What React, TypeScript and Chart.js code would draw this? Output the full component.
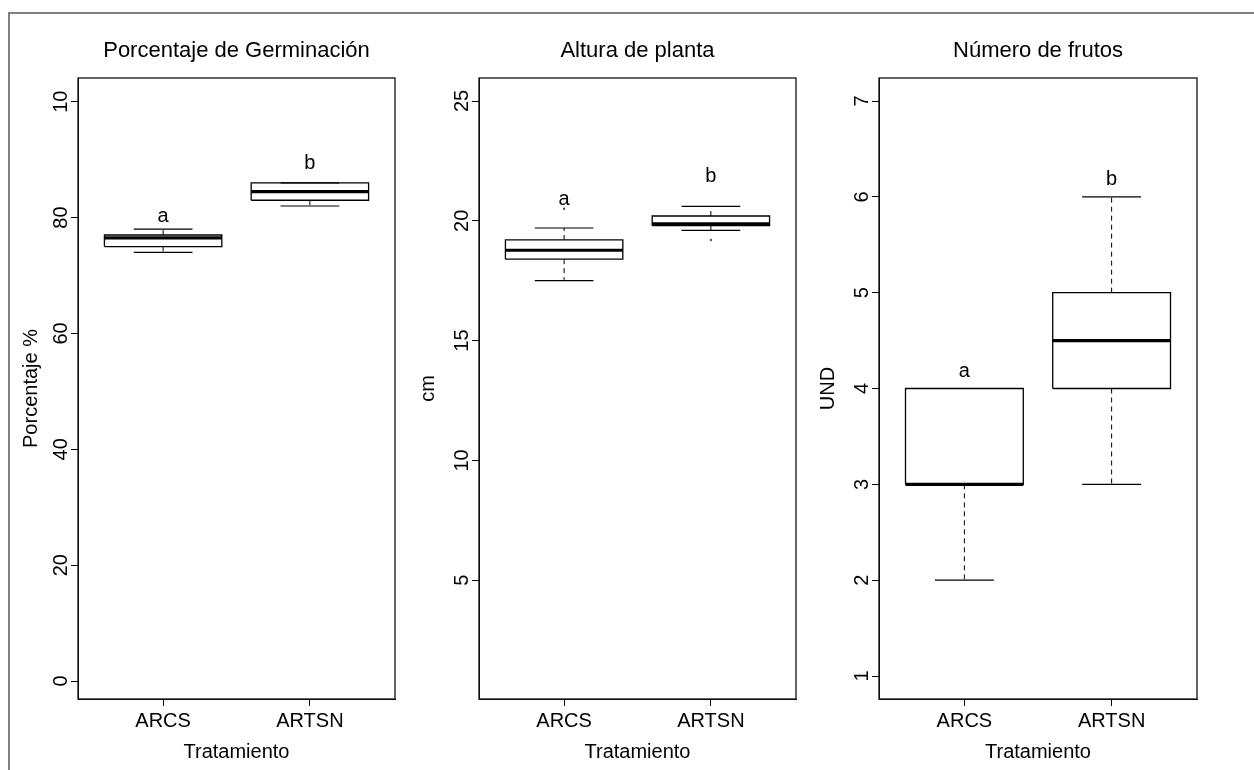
import React, { useEffect, useRef } from "react";
import { Chart, registerables } from "chart.js";

Chart.register(...registerables);

const FONT = "'Liberation Sans', Arial, Helvetica, sans-serif";

// ---------- data ----------
const categories = ["ARCS", "ARTSN"];
const xAxisTitle = "Tratamiento";

// five-number summaries: [min, q1, median, q3, max]
const germStats = [
  [74, 75, 76.5, 77, 78],
  [82, 83, 84.5, 86, 86],
];
const alturaStats = [
  [17.5, 18.4, 18.77, 19.2, 19.7],
  [19.6, 19.8, 19.87, 20.2, 20.6],
];
const frutosStats = [
  [2, 3, 3, 4, 4],
  [3, 4, 4.5, 5, 6],
];

const germOutliers = [[], []];
const alturaOutliers = [[20.5], [19.2]];
const frutosOutliers = [[], []];

const groupLetters = ["a", "b"];
const germLetterY = [79.3, 88.4];
const alturaLetterY = [20.67, 21.62];
const frutosLetterY = [4.12, 6.12];

const germTicks = [0, 20, 40, 60, 80, 100];
const germTickLabels = ["0", "20", "40", "60", "80", "10"];
const alturaTicks = [5, 10, 15, 20, 25];
const alturaTickLabels = ["5", "10", "15", "20", "25"];
const frutosTicks = [1, 2, 3, 4, 5, 6, 7];
const frutosTickLabels = ["1", "2", "3", "4", "5", "6", "7"];

// ---------- panel setup ----------
type PanelCfg = {
  title: string;
  yTitle: string;
  stats: number[][];
  outliers: number[][];
  letterY: number[];
  ticks: number[];
  tickLabels: string[];
  yMin: number;
  yMax: number;
  left: number;
  width: number;
  padLeft: number;
  yAxisWidth: number;
  padRight: number;
  tickPad: number;
};

const panels: PanelCfg[] = [
  {
    title: "Porcentaje de Germinación",
    yTitle: "Porcentaje %",
    stats: germStats,
    outliers: germOutliers,
    letterY: germLetterY,
    ticks: germTicks,
    tickLabels: germTickLabels,
    yMin: -3.1,
    yMax: 104.1,
    left: 0,
    width: 430,
    padLeft: 19,
    yAxisWidth: 59,
    padRight: 35,
    tickPad: -2,
  },
  {
    title: "Altura de planta",
    yTitle: "cm",
    stats: alturaStats,
    outliers: alturaOutliers,
    letterY: alturaLetterY,
    ticks: alturaTicks,
    tickLabels: alturaTickLabels,
    yMin: 0.04,
    yMax: 25.96,
    left: 380,
    width: 450,
    padLeft: 36,
    yAxisWidth: 63,
    padRight: 34,
    tickPad: -2,
  },
  {
    title: "Número de frutos",
    yTitle: "UND",
    stats: frutosStats,
    outliers: frutosOutliers,
    letterY: frutosLetterY,
    ticks: frutosTicks,
    tickLabels: frutosTickLabels,
    yMin: 0.76,
    yMax: 7.24,
    left: 780,
    width: 450,
    padLeft: 36,
    yAxisWidth: 63,
    padRight: 33,
    tickPad: 4,
  },
];

const BOX_HALF = 0.4;
const STAPLE_HALF = 0.2;

function buildDatasets(cfg: PanelCfg) {
  const ds: any[] = [];
  const line = (pts: { x: number; y: number }[], width: number, dash: number[] = []) => ({
    data: pts,
    showLine: true,
    borderColor: "#000",
    backgroundColor: "#000",
    borderWidth: width,
    borderDash: dash,
    pointRadius: 0,
    borderCapStyle: "butt",
  });
  cfg.stats.forEach((s, i) => {
    const g = i + 1;
    const [mn, q1, md, q3, mx] = s;
    // whiskers (dashed)
    ds.push(line([{ x: g, y: q3 }, { x: g, y: mx }], 1, [5, 4]));
    ds.push(line([{ x: g, y: q1 }, { x: g, y: mn }], 1, [5, 4]));
    // staples
    ds.push(line([{ x: g - STAPLE_HALF, y: mx }, { x: g + STAPLE_HALF, y: mx }], 1.2));
    ds.push(line([{ x: g - STAPLE_HALF, y: mn }, { x: g + STAPLE_HALF, y: mn }], 1.2));
    // box
    ds.push(
      line(
        [
          { x: g - BOX_HALF, y: q1 },
          { x: g + BOX_HALF, y: q1 },
          { x: g + BOX_HALF, y: q3 },
          { x: g - BOX_HALF, y: q3 },
          { x: g - BOX_HALF, y: q1 },
        ],
        1.3
      )
    );
    // median
    ds.push(line([{ x: g - BOX_HALF, y: md }, { x: g + BOX_HALF, y: md }], 3.2));
    // outliers
    if (cfg.outliers[i].length) {
      ds.push({
        data: cfg.outliers[i].map((v) => ({ x: g, y: v })),
        showLine: false,
        pointRadius: 1.2,
        pointBorderWidth: 0,
        backgroundColor: "#555",
        borderColor: "#555",
      });
    }
  });
  return ds;
}

function Panel({ cfg }: { cfg: PanelCfg }) {
  const ref = useRef<HTMLCanvasElement | null>(null);
  useEffect(() => {
    if (!ref.current) return;
    const framePlugin = {
      id: "frame",
      afterDraw(chart: any) {
        const { ctx, chartArea } = chart;
        const { left, top, right, bottom } = chartArea;
        ctx.save();
        ctx.strokeStyle = "#111";
        ctx.lineWidth = 1.3;
        ctx.strokeRect(left, top, right - left, bottom - top);
        ctx.restore();
      },
    };
    const textPlugin = {
      id: "panelText",
      afterDraw(chart: any) {
        const { ctx, chartArea, scales } = chart;
        ctx.save();
        ctx.fillStyle = "#000";
        ctx.textAlign = "center";
        ctx.textBaseline = "alphabetic";
        ctx.font = `22px ${FONT}`;
        ctx.fillText(cfg.title, (chartArea.left + chartArea.right) / 2, 57);
        ctx.font = `20px ${FONT}`;
        groupLetters.forEach((l, i) => {
          const px = scales.x.getPixelForValue(i + 1);
          const py = scales.y.getPixelForValue(cfg.letterY[i]);
          ctx.fillText(l, px, py);
        });
        ctx.restore();
      },
    };
    const chart = new Chart(ref.current, {
      type: "scatter",
      data: { datasets: buildDatasets(cfg) },
      options: {
        animation: false,
        responsive: false,
        maintainAspectRatio: false,
        devicePixelRatio: 1,
        events: [],
        layout: { padding: { left: cfg.padLeft, right: cfg.padRight, top: 78, bottom: 6 } },
        plugins: {
          legend: { display: false },
          tooltip: { enabled: false },
          title: { display: false },
        },
        scales: {
          x: {
            type: "linear",
            position: "bottom",
            min: 0.42,
            max: 2.58,
            afterBuildTicks: (s: any) => {
              s.ticks = categories.map((_, i) => ({ value: i + 1 }));
            },
            afterFit: (s: any) => {
              s.height = 65;
            },
            ticks: {
              autoSkip: false,
              minRotation: 0,
              maxRotation: 0,
              padding: 3,
              color: "#000",
              font: { family: FONT, size: 20 },
              callback: (v: any) => categories[Number(v) - 1] ?? "",
            },
            grid: {
              display: true,
              drawOnChartArea: false,
              drawTicks: true,
              tickLength: 7,
              color: "#000",
              lineWidth: 1,
            },
            border: { display: true, color: "#000", width: 1 },
            title: {
              display: true,
              text: xAxisTitle,
              color: "#000",
              font: { family: FONT, size: 20 },
              padding: { top: 0, bottom: 0 },
            },
          },
          y: {
            type: "linear",
            position: "left",
            min: cfg.yMin,
            max: cfg.yMax,
            afterBuildTicks: (s: any) => {
              s.ticks = cfg.ticks.map((v) => ({ value: v }));
            },
            afterFit: (s: any) => {
              s.width = cfg.yAxisWidth;
            },
            ticks: {
              autoSkip: false,
              minRotation: 90,
              maxRotation: 90,
              crossAlign: "center",
              padding: cfg.tickPad,
              color: "#000",
              font: { family: FONT, size: 20 },
              callback: (v: any) => {
                const idx = cfg.ticks.indexOf(Number(v));
                return idx >= 0 ? cfg.tickLabels[idx] : "";
              },
            },
            grid: {
              display: true,
              drawOnChartArea: false,
              drawTicks: true,
              tickLength: 7,
              color: "#000",
              lineWidth: 1,
            },
            border: { display: true, color: "#000", width: 1 },
            title: {
              display: true,
              text: cfg.yTitle,
              color: "#000",
              font: { family: FONT, size: 20 },
              padding: { top: 0, bottom: 0 },
            },
          },
        },
      } as any,
      plugins: [framePlugin, textPlugin],
    });
    return () => chart.destroy();
  }, [cfg]);
  return (
    <canvas
      ref={ref}
      width={cfg.width}
      height={770}
      style={{
        position: "absolute",
        left: cfg.left,
        top: 0,
        width: cfg.width,
        height: 770,
      }}
    />
  );
}

export default function App() {
  return (
    <div
      style={{
        position: "absolute",
        left: 0,
        top: 0,
        width: 1254,
        height: 770,
        overflow: "hidden",
        background: "#fff",
      }}
    >
      <div
        style={{
          position: "absolute",
          left: 8,
          top: 12,
          width: 1400,
          height: 900,
          border: "2px solid #808080",
          boxSizing: "border-box",
        }}
      />
      {panels.map((p, i) => (
        <Panel key={i} cfg={p} />
      ))}
    </div>
  );
}
